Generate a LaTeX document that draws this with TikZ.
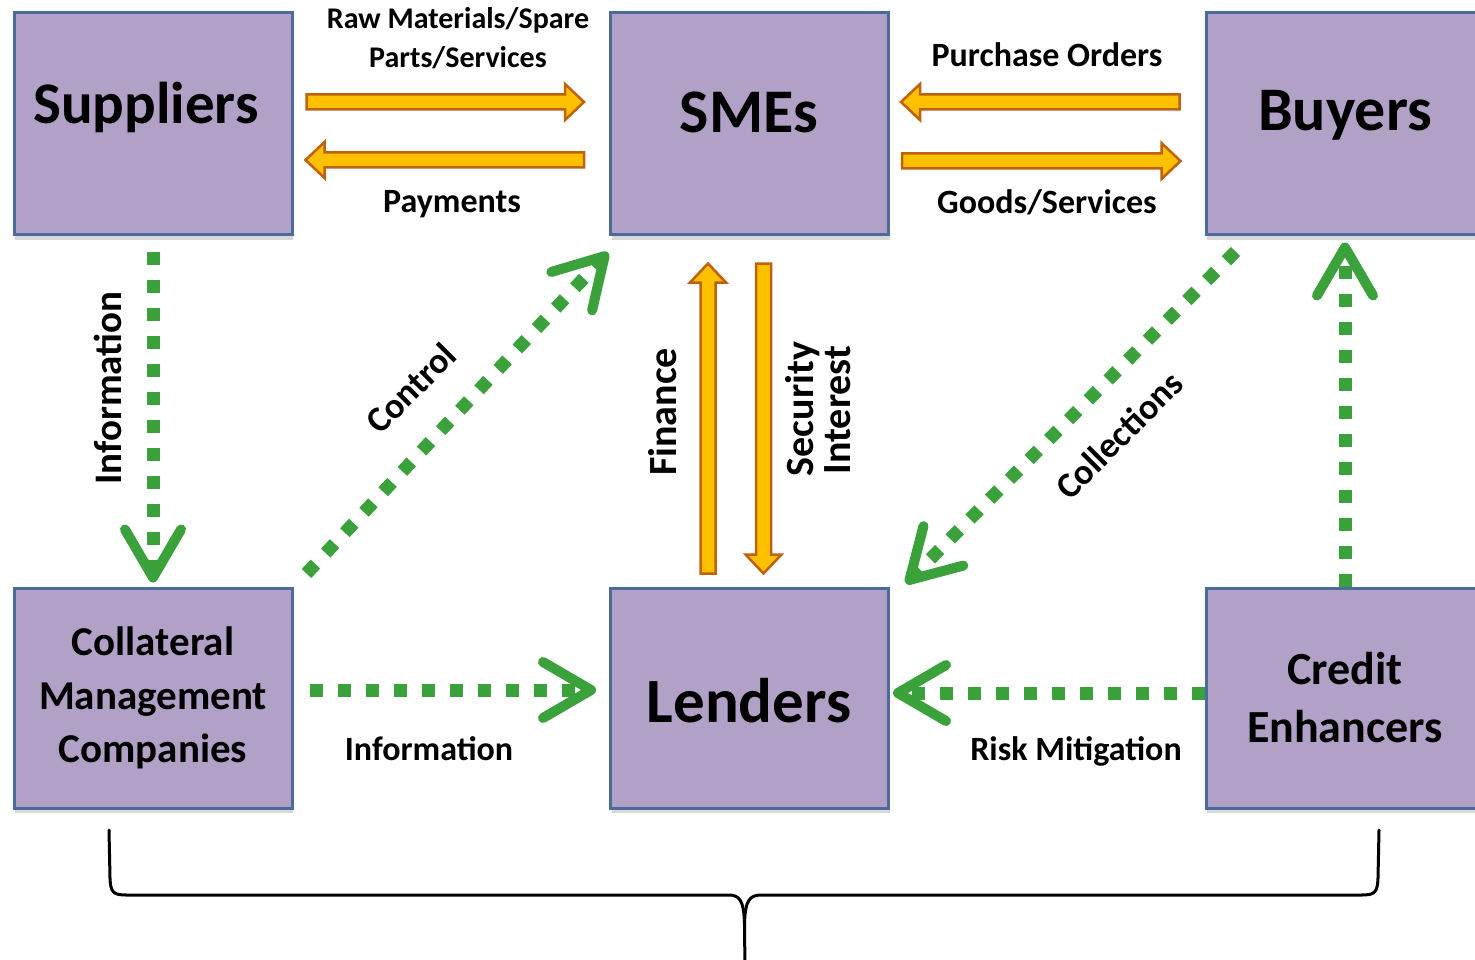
\documentclass[tikz,border=0pt]{standalone}
\usepackage{fontspec}
\setmainfont{Carlito}
\usetikzlibrary{arrows.meta,calc,shadows}

\definecolor{boxfill}{HTML}{B2A1C7}
\definecolor{boxedge}{HTML}{4A6B9B}
\definecolor{flowfill}{HTML}{FFC000}
\definecolor{flowedge}{HTML}{BF620F}
\definecolor{ctrlgreen}{HTML}{3BA13B}

% Block arrow (shaft + head) drawn from one named point to another
\newcommand\blockflow[2]{%
  \path (#1); \pgfgetlastxy{\fax}{\fay}%
  \path (#2); \pgfgetlastxy{\fbx}{\fby}%
  \pgfmathsetmacro\falen{veclen(\fbx-\fax,\fby-\fay)}%
  \pgfmathsetmacro\faang{atan2(\fby-\fay,\fbx-\fax)}%
  \draw[flowbody, shift={(\fax,\fay)}, rotate=\faang]
    (0pt,-7.5pt) -- ({\falen pt-19pt},-7.5pt) -- ({\falen pt-19pt},-18pt)
    -- ({\falen pt},0pt) -- ({\falen pt-19pt},18pt) -- ({\falen pt-19pt},7.5pt)
    -- (0pt,7.5pt) -- cycle;%
}

\tikzset{
  party/.style={draw=boxedge, fill=boxfill, line width=3pt, inner sep=0pt,
    minimum width=278pt,
    drop shadow={shadow xshift=1pt, shadow yshift=-5pt, opacity=0.22, fill=black!70}},
  top party/.style={party, minimum height=222pt},
  low party/.style={party, minimum height=220pt},
  boxtext/.style={anchor=base, inner sep=0pt, font=\bfseries\fontsize{#1}{#1}\selectfont},
  flowtext/.style={anchor=base, inner sep=0pt, font=\bfseries\fontsize{#1}{#1}\selectfont},
  sidetext/.style={inner sep=0pt, font=\bfseries\fontsize{#1}{#1}\selectfont},
  flowbody/.style={draw=flowedge, fill=flowfill, line width=2.5pt, line join=miter},
  ctrlflow/.style={draw=ctrlgreen, line width=13pt, dash pattern=on 13pt off 15pt,
    -{Straight Barb[length=48pt, width=56pt, line width=10pt, round]}},
  brace/.style={draw=black, line width=3pt, line cap=round, line join=round},
}

\begin{document}
\begin{tikzpicture}[x=1pt,y=-1pt]
\useasboundingbox (0,0) rectangle (1475,960);
\clip (0,0) rectangle (1475,960);
\fill[white] (0,0) rectangle (1475,960);

% Parties
\node[top party] (sup) at (153,124) {};
\node[top party] (sme) at (749.5,124) {};
\node[top party] (buy) at (1345,124) {};
\node[low party] (col) at (153,698) {};
\node[low party] (len) at (749.5,698) {};
\node[low party] (cre) at (1345,698) {};

\node[boxtext=59] (supT) at (146,124) {Suppliers};
\node[boxtext=62] (smeT) at (749,133) {SMEs};
\node[boxtext=62] (buyT) at (1345,131) {Buyers};
\node[boxtext=63] (lenT) at (749,722) {Lenders};
\node[boxtext=41] (colT1) at (153,655) {Collateral};
\node[boxtext=41] (colT2) at (153,709) {Management};
\node[boxtext=41] (colT3) at (153,762) {Companies};
\node[boxtext=46] (creT1) at (1345,684) {Credit};
\node[boxtext=46] (creT2) at (1345,742) {Enhancers};

% End points of the block arrows
\coordinate (rawS) at ($(sup.east)+(13,-22)$);
\coordinate (rawE) at ($(sme.west)+(-25,-22)$);
\coordinate (payS) at ($(sme.west)+(-25,36)$);
\coordinate (payE) at ($(sup.east)+(12,36)$);
\coordinate (poS)  at ($(buy.west)+(-25,-22)$);
\coordinate (poE)  at ($(sme.east)+(11,-22)$);
\coordinate (gdS)  at ($(sme.east)+(12,37)$);
\coordinate (gdE)  at ($(buy.west)+(-24,37)$);
\coordinate (finS) at ($(len.north)+(-41.5,-13)$);
\coordinate (finE) at ($(sme.south)+(-41.5,27)$);
\coordinate (secS) at ($(sme.south)+(14,27)$);
\coordinate (secE) at ($(len.north)+(14,-13)$);

\blockflow{rawS}{rawE}
\blockflow{payS}{payE}
\blockflow{poS}{poE}
\blockflow{gdS}{gdE}
\blockflow{finS}{finE}
\blockflow{secS}{secE}

% Labels of the block arrows
\node[flowtext=30] (rawL1) at (458,29) {Raw Materials/Spare};
\node[flowtext=30] (rawL2) at (458,68) {Parts/Services};
\node[flowtext=34] (payL) at (452,213) {Payments};
\node[flowtext=34] (poL) at (1047,67) {Purchase Orders};
\node[flowtext=34] (gdL) at (1047,214) {Goods/Services};
\node[sidetext=40, rotate=90, anchor=base] (finL) at (676,412) {Finance};
\node[sidetext=40, rotate=90, anchor=base] (secL1) at (813,409) {Security};
\node[sidetext=40, rotate=90, anchor=base] (secL2) at (850,410) {Interest};

% Dotted control flows
\draw[ctrlflow] ($(sup.south)+(0,15)$) -- ($(col.north)+(0,-4)$);
\draw[ctrlflow] ($(col.north east)+(13,-13)$) -- ($(sme.south west)+(-1,16)$);
\draw[ctrlflow] ($(buy.south west)+(31,15)$) -- ($(len.north east)+(16,-3)$);
\draw[ctrlflow] (cre.north) -- ($(buy.south)+(0,6)$);
\draw[ctrlflow] ($(col.east)+(16,-8)$) -- ($(len.west)+(-13,-8)$);
\draw[ctrlflow] ($(cre.west)+(0,-5)$) -- ($(len.east)+(3,-5)$);

\node[sidetext=39, rotate=90, anchor=base] (infoL) at (121,388) {Information};
\node[sidetext=36, rotate=45] (ctlL) at (411,388) {Control};
\node[sidetext=36, rotate=45] (colL) at (1119,435) {Collections};
\node[flowtext=34] (info2L) at (429,760) {Information};
\node[flowtext=34] (riskL) at (1076,760) {Risk Mitigation};

% Brace grouping the lower row
\draw[brace] (109,830) -- (110,878) .. controls (110.5,892) and (113,895) .. (126,895)
  -- (728,895) .. controls (739,895) and (744,899) .. (744.5,925) -- (745,970);
\draw[brace] (744.5,925) .. controls (745,899) and (750,895) .. (762,895)
  -- (1362,895) .. controls (1375,895) and (1377.5,892) .. (1378,878) -- (1379,830);
\end{tikzpicture}
\end{document}
